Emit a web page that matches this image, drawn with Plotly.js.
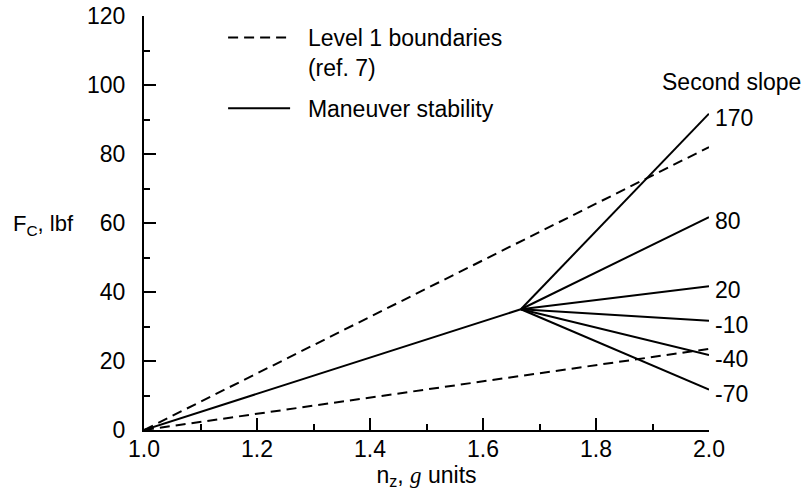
<!DOCTYPE html>
<html>
<head>
<meta charset="utf-8">
<script src="https://cdn.plot.ly/plotly-3.0.1.min.js"></script>
<style>
  html, body { margin: 0; padding: 0; background: #fff; }
  #chart { width: 809px; height: 501px; }
</style>
</head>
<body>
<div id="chart"></div>
<script>
// ---- data ----
const boundaryX = [1.0, 2.0];
const upperBoundaryY = [0, 82];
const lowerBoundaryY = [0, 23.5];

const firstSlopeX = [1.0, 1.667];
const firstSlopeY = [0, 35];

const secondSlopeLabels = ['170', '80', '20', '-10', '-40', '-70'];
const secondSlopeEndX = 2.0;
const secondSlopeEndY = [91.7, 61.7, 41.7, 31.7, 21.7, 11.7];

const xTickVals = [1.0, 1.2, 1.4, 1.6, 1.8, 2.0];
const xTickText = ['1.0', '1.2', '1.4', '1.6', '1.8', '2.0'];
const yTickVals = [0, 20, 40, 60, 80, 100, 120];
const yTickText = ['0', '20', '40', '60', '80', '100', '120'];

// ---- build traces ----
const FONT = '"Liberation Sans", Arial, Helvetica, sans-serif';
const FS = 23;
const PAD = '\u00A0\u00A0';

// dashed boundaries: both lines in one trace separated by a gap
const bx = [], by = [];
[upperBoundaryY, lowerBoundaryY].forEach((ys, i) => {
  if (i > 0) { bx.push(null); by.push(null); }
  boundaryX.forEach((x, j) => { bx.push(x); by.push(ys[j]); });
});

// solid maneuver stability: first slope then each second slope branch
const mx = firstSlopeX.slice(), my = firstSlopeY.slice();
const breakX = firstSlopeX[firstSlopeX.length - 1];
const breakY = firstSlopeY[firstSlopeY.length - 1];
secondSlopeEndY.forEach(y => {
  mx.push(null, breakX, secondSlopeEndX);
  my.push(null, breakY, y);
});

const traces = [
  {
    x: bx, y: by, type: 'scatter', mode: 'lines',
    name: PAD + 'Level 1 boundaries<br>' + PAD + '(ref. 7)',
    line: { color: '#000', width: 2, dash: '10px,6px' },
    connectgaps: false, legendgroup: 'a', hoverinfo: 'skip'
  },
  {
    x: mx, y: my, type: 'scatter', mode: 'lines',
    name: PAD + 'Maneuver stability',
    line: { color: '#000', width: 2 },
    connectgaps: false, legendgroup: 'b', hoverinfo: 'skip'
  }
];

const annotations = secondSlopeLabels.map((t, i) => ({
  x: secondSlopeEndX, y: secondSlopeEndY[i], xref: 'x', yref: 'y',
  text: t, showarrow: false, xanchor: 'left', yanchor: 'middle',
  xshift: 4, yshift: -4,
  font: { family: FONT, size: FS, color: '#000' }
}));
annotations.push({
  x: secondSlopeEndX, y: 101, xref: 'x', yref: 'y',
  text: 'Second slope', showarrow: false, xanchor: 'center', yanchor: 'middle',
  xshift: 22,
  font: { family: FONT, size: FS, color: '#000' }
});
annotations.push({
  x: 0, y: 60, xref: 'paper', yref: 'y',
  text: 'F<sub>C</sub>, lbf', showarrow: false, xanchor: 'left', yanchor: 'middle',
  xshift: -133, yshift: -2,
  font: { family: FONT, size: FS - 1, color: '#000' }
});

const layout = {
  width: 809, height: 501,
  margin: { l: 144, r: 100, t: 16, b: 71 },
  paper_bgcolor: '#fff', plot_bgcolor: '#fff',
  font: { family: FONT, size: FS, color: '#000' },
  showlegend: true,
  legend: {
    x: 0.14, y: 1.0, xanchor: 'left', yanchor: 'top',
    bgcolor: 'rgba(0,0,0,0)', borderwidth: 0,
    font: { family: FONT, size: FS, color: '#000' },
    itemwidth: 62, valign: 'top', tracegroupgap: 8
  },
  xaxis: {
    range: [1.0, 2.0], showgrid: false, zeroline: false,
    showline: true, linecolor: '#000', linewidth: 2, mirror: false,
    ticks: 'inside', ticklen: 12, tickwidth: 2, tickcolor: '#000',
    tickvals: xTickVals, ticktext: xTickText,
    ticklabelstandoff: -3,
    minor: { dtick: 0.1, ticks: 'inside', ticklen: 6, tickwidth: 2, tickcolor: '#000', showgrid: false },
    title: {
      text: 'n<sub>z</sub>, <span style="font-family:\'Liberation Serif\',Times,serif;font-style:italic">g</span> units',
      font: { family: FONT, size: FS, color: '#000' },
      standoff: 0
    },
    fixedrange: true
  },
  yaxis: {
    range: [0, 120], showgrid: false, zeroline: false,
    showline: true, linecolor: '#000', linewidth: 2, mirror: false,
    ticks: 'inside', ticklen: 12, tickwidth: 2, tickcolor: '#000',
    tickvals: yTickVals, ticktext: yTickText,
    ticklabelstandoff: 12,
    minor: { dtick: 10, ticks: 'inside', ticklen: 6, tickwidth: 2, tickcolor: '#000', showgrid: false },
    fixedrange: true
  },
  annotations: annotations
};

Plotly.newPlot('chart', traces, layout, { staticPlot: true, displayModeBar: false });
</script>
</body>
</html>
